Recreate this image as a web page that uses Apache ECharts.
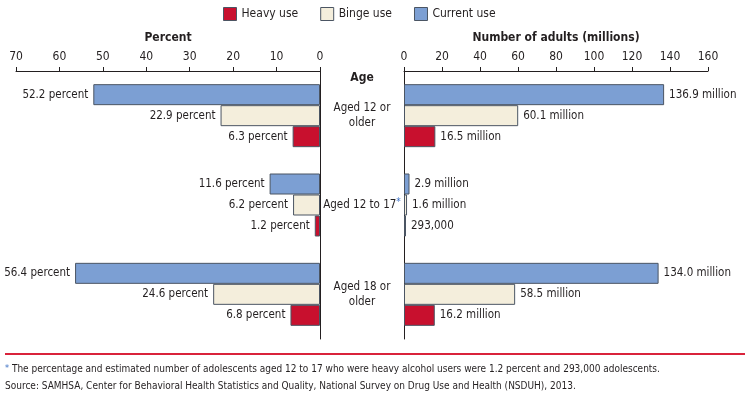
<!DOCTYPE html>
<html>
<head>
<meta charset="utf-8">
<script src="https://cdn.jsdelivr.net/npm/echarts@6/dist/echarts.min.js"></script>
<style>
  html, body { margin: 0; padding: 0; background: #fff; }
  #chart { width: 750px; height: 397px; }
</style>
</head>
<body>
<div id="chart"></div>
<script>
// age groups, top to bottom
var ages = ['Aged 12 or\nolder', 'Aged 12 to 17', 'Aged 18 or\nolder'];

// percent of population
var currentPct = [52.2, 11.6, 56.4];
var bingePct = [22.9, 6.2, 24.6];
var heavyPct = [6.3, 1.2, 6.8];

// number of people, millions
var currentNum = [136.9, 2.9, 134.0];
var bingeNum = [60.1, 1.6, 58.5];
var heavyNum = [16.5, 0.293, 16.2];

var pctTicks = [0, 10, 20, 30, 40, 50, 60, 70];
var numTicks = [0, 20, 40, 60, 80, 100, 120, 140, 160];

var FONT = "'DejaVu Sans Condensed', Roboto, 'Liberation Sans', Arial, sans-serif";
var FS = 12;
var LFS = 11.5;
var TXT = '#231f20';

var colors = {
  current: '#7c9fd3',
  binge: '#f4eedc',
  heavy: '#c8102e'
};
var edge = '#4b5563';

var chart = echarts.init(document.getElementById('chart'));

function numLabel(v) {
  if (v >= 1) return v.toFixed(1) + ' million';
  return Math.round(v * 1000000).toLocaleString('en-US');
}

function barSeries(name, data, color, side) {
  return {
    name: name,
    type: 'bar',
    xAxisIndex: side,
    yAxisIndex: side,
    data: data,
    barWidth: 21,
    barGap: '0%',
    barMinHeight: 2,
    itemStyle: { color: color, borderColor: edge, borderWidth: 1 },
    label: {
      show: true,
      position: side === 0 ? 'left' : 'right',
      distance: 5,
      color: TXT,
      fontFamily: FONT,
      fontSize: LFS,
      formatter: function (p) {
        return side === 0 ? p.value + ' percent' : numLabel(p.value);
      }
    }
  };
}

function valueAxis(grid, ticks, name, inverse) {
  return {
    gridIndex: grid, type: 'value', position: 'top', inverse: inverse,
    min: ticks[0], max: ticks[ticks.length - 1], interval: ticks[1] - ticks[0],
    name: name, nameLocation: 'middle', nameGap: 27,
    nameTextStyle: { fontFamily: FONT, fontSize: FS, fontWeight: 'bold', color: TXT },
    axisLine: { show: true, lineStyle: { color: TXT, width: 1 } },
    axisTick: { show: true, length: 4, lineStyle: { color: TXT } },
    axisLabel: { margin: 8, color: TXT, fontFamily: FONT, fontSize: FS },
    splitLine: { show: false }
  };
}

var option = {
  animation: false,
  textStyle: { fontFamily: FONT },
  legend: {
    top: 2,
    left: 218,
    itemWidth: 13,
    itemHeight: 13,
    itemGap: 22,
    icon: 'rect',
    data: ['Heavy use', 'Binge use', 'Current use'],
    textStyle: { fontFamily: FONT, fontSize: FS, color: TXT },
    itemStyle: { borderColor: edge, borderWidth: 1 }
  },
  grid: [
    { left: 16, width: 304, top: 71, bottom: 58 },
    { left: 404, width: 304, top: 71, bottom: 58 }
  ],
  xAxis: [
    valueAxis(0, pctTicks, 'Percent', true),
    valueAxis(1, numTicks, 'Number of adults (millions)', false)
  ],
  yAxis: [
    {
      gridIndex: 0, type: 'category', data: ages, inverse: true, position: 'right',
      axisLine: { show: true, lineStyle: { color: TXT, width: 1 } },
      axisTick: { show: false },
      axisLabel: {
        margin: 42, align: 'center', color: TXT, fontFamily: FONT, fontSize: LFS, lineHeight: 15,
        formatter: function (v) {
          if (v === 'Aged 12 to 17') return '{a|' + v + '}{s|*}';
          return v;
        },
        rich: {
          a: { fontFamily: FONT, fontSize: LFS, color: TXT },
          s: { fontFamily: FONT, fontSize: 10, color: '#3a6fc4', verticalAlign: 'top', padding: [0, 0, 4, 0] }
        }
      },
      name: 'Age', nameLocation: 'start', nameGap: 0,
      nameTextStyle: { fontFamily: FONT, fontSize: FS, fontWeight: 'bold', color: TXT, align: 'center', padding: [0, 0, 0, 84], verticalAlign: 'top', lineHeight: 14 }
    },
    {
      gridIndex: 1, type: 'category', data: ages, inverse: true, position: 'left',
      axisLine: { show: true, lineStyle: { color: TXT, width: 1 } },
      axisTick: { show: false },
      axisLabel: { show: false }
    }
  ],
  graphic: [
    {
      type: 'line',
      shape: { x1: 5, y1: 354, x2: 745, y2: 354 },
      style: { stroke: '#d9233b', lineWidth: 2 }
    },
    {
      type: 'text', left: 5, top: 364,
      style: {
        text: '{s|*} The percentage and estimated number of adolescents aged 12 to 17 who were heavy alcohol users were 1.2 percent and 293,000 adolescents.',
        rich: {
          s: { fontFamily: FONT, fontSize: 9, fill: '#3a6fc4', verticalAlign: 'top' }
        },
        fontFamily: FONT, fontSize: 10, fill: TXT
      }
    },
    {
      type: 'text', left: 5, top: 381,
      style: {
        text: 'Source: SAMHSA, Center for Behavioral Health Statistics and Quality, National Survey on Drug Use and Health (NSDUH), 2013.',
        fontFamily: FONT, fontSize: 10, fill: TXT
      }
    }
  ],
  series: [
    barSeries('Current use', currentPct, colors.current, 0),
    barSeries('Binge use', bingePct, colors.binge, 0),
    barSeries('Heavy use', heavyPct, colors.heavy, 0),
    barSeries('Current use', currentNum, colors.current, 1),
    barSeries('Binge use', bingeNum, colors.binge, 1),
    barSeries('Heavy use', heavyNum, colors.heavy, 1)
  ]
};

chart.setOption(option);
</script>
</body>
</html>
